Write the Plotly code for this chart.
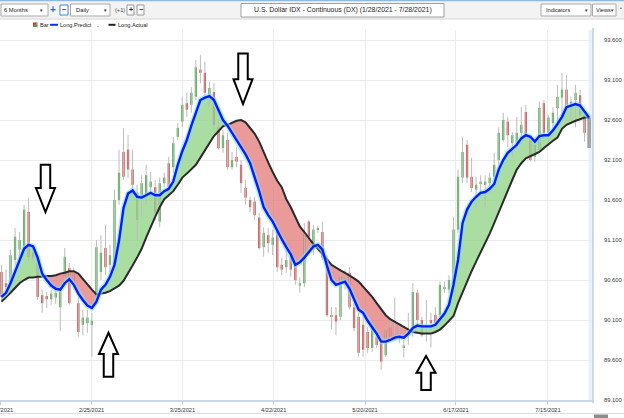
import plotly.graph_objects as go

FONT = "Liberation Sans"

# ---------------- data ----------------
tick_pos = [-0.2, 19.93, 40.04, 60.22, 80.42, 100.55, 120.9]
tick_labels = ["1/28/2021", "2/25/2021", "3/25/2021", "4/22/2021",
               "5/20/2021", "6/17/2021", "7/15/2021"]

opens = [90.70, 90.56, 90.56, 90.85, 90.98, 90.98, 91.45, 90.95, 90.85, 90.41,
         90.40, 90.36, 90.38, 90.26, 90.64, 90.75, 90.70, 90.31, 90.04, 90.06,
         90.04, 90.39, 90.70, 91.00, 90.79, 90.76, 91.60, 92.20, 92.23, 91.98,
         91.35, 91.64, 91.66, 91.76, 91.76, 91.33, 91.81, 92.06, 92.01, 92.39,
         92.58, 92.81, 92.79, 92.89, 93.23, 93.19, 92.91, 92.95, 92.51, 92.25,
         92.35, 92.01, 92.14, 92.04, 91.75, 91.60, 91.58, 91.38, 91.01, 91.16,
         91.04, 91.25, 90.79, 90.76, 90.88, 90.81, 90.53, 90.56, 91.33, 90.98,
         91.23, 91.20, 90.85, 90.16, 90.16, 90.14, 90.58, 90.69, 90.26, 90.14,
         90.04, 89.95, 89.75, 89.89, 89.81, 89.66, 90.01, 89.86, 89.91, 89.76,
         89.91, 89.94, 90.44, 90.10, 90.04, 90.10, 90.16, 90.16, 90.49, 90.48,
         90.50, 91.23, 91.88, 92.29, 91.89, 91.73, 91.80, 91.79, 91.81, 91.89,
         92.10, 92.35, 92.58, 92.31, 92.26, 92.44, 92.70, 92.38, 92.14, 92.23,
         92.81, 92.44, 92.56, 92.75, 92.88, 92.98, 92.76, 92.85, 92.91, 92.66,
         92.63]
highs = [90.79, 90.73, 90.98, 91.25, 91.20, 91.54, 91.63, 91.00, 90.90, 90.48,
         90.45, 90.48, 90.49, 90.56, 91.00, 90.81, 90.76, 90.39, 90.23, 90.23,
         90.19, 91.10, 91.16, 91.29, 91.04, 91.73, 92.23, 92.50, 92.41, 92.23,
         91.79, 91.91, 92.04, 91.95, 91.85, 91.88, 91.94, 92.14, 92.39, 92.56,
         92.89, 92.94, 93.01, 93.35, 93.41, 93.33, 93.08, 93.06, 92.60, 92.48,
         92.44, 92.20, 92.26, 92.10, 91.85, 91.64, 91.64, 91.44, 91.26, 91.25,
         91.23, 91.29, 90.88, 90.98, 90.95, 90.88, 90.63, 91.31, 91.35, 91.29,
         91.28, 91.33, 90.91, 90.26, 90.26, 90.70, 90.73, 90.76, 90.31, 90.19,
         90.14, 90.01, 90.06, 89.94, 89.85, 90.01, 90.10, 90.38, 90.04, 89.85,
         90.19, 90.56, 90.48, 90.14, 90.35, 90.19, 90.26, 90.58, 90.58, 90.66,
         91.39, 91.98, 92.39, 92.35, 92.13, 91.89, 91.91, 91.91, 91.94, 92.19,
         92.51, 92.69, 92.64, 92.45, 92.64, 92.76, 92.79, 92.41, 92.33, 92.83,
         92.85, 92.66, 92.76, 93.04, 93.19, 93.16, 92.89, 93.04, 92.98, 92.73,
         92.63]
lows = [90.35, 90.35, 90.48, 90.79, 90.83, 90.91, 90.83, 90.83, 90.35, 90.19,
        90.25, 90.29, 90.30, 89.96, 90.56, 90.29, 90.48, 89.89, 89.91, 89.94,
        89.64, 90.29, 90.60, 90.66, 90.70, 90.73, 91.54, 91.85, 91.88, 91.66,
        91.10, 91.41, 91.54, 91.64, 91.35, 91.26, 91.76, 91.64, 91.94, 92.35,
        92.51, 92.64, 92.69, 92.85, 93.06, 92.85, 92.76, 92.48, 92.23, 92.19,
        91.98, 91.98, 92.01, 91.69, 91.54, 91.45, 91.35, 90.98, 90.89, 90.94,
        90.91, 90.70, 90.66, 90.69, 90.64, 90.54, 90.44, 90.51, 91.10, 90.91,
        91.19, 90.85, 90.14, 89.98, 89.91, 90.10, 90.48, 90.23, 89.96, 89.64,
        89.64, 89.69, 89.70, 89.75, 89.48, 89.64, 89.85, 89.85, 89.81, 89.63,
        89.79, 89.89, 90.04, 89.89, 89.83, 89.76, 90.01, 90.14, 90.44, 90.44,
        90.44, 91.19, 91.81, 91.81, 91.70, 91.51, 91.69, 91.51, 91.69, 91.81,
        92.01, 92.33, 92.26, 92.14, 92.23, 92.35, 92.35, 92.08, 92.08, 92.19,
        92.39, 92.33, 92.48, 92.51, 92.63, 92.69, 92.60, 92.51, 92.64, 92.33,
        92.25]
closes = [90.39, 90.51, 90.91, 91.14, 91.10, 91.48, 90.89, 90.88, 90.39, 90.31,
          90.36, 90.43, 90.44, 90.50, 90.89, 90.31, 90.58, 89.95, 90.13, 90.13,
          90.09, 91.01, 90.94, 90.76, 90.91, 91.60, 91.94, 91.89, 91.98, 91.79,
          91.69, 91.81, 91.91, 91.83, 91.44, 91.81, 91.88, 91.76, 92.31, 92.50,
          92.79, 92.73, 92.94, 93.26, 93.19, 92.94, 93.00, 92.54, 92.25, 92.41,
          92.01, 92.10, 92.08, 91.81, 91.63, 91.51, 91.41, 91.00, 91.19, 91.06,
          91.13, 90.76, 90.73, 90.85, 90.73, 90.60, 90.56, 91.19, 91.14, 91.23,
          91.24, 90.88, 90.16, 90.14, 90.08, 90.64, 90.63, 90.26, 90.00, 89.69,
          89.73, 89.75, 90.00, 89.79, 89.58, 89.98, 89.89, 89.89, 89.89, 89.78,
          89.94, 90.45, 90.10, 89.91, 90.00, 90.06, 90.06, 90.54, 90.50, 90.60,
          91.23, 91.89, 92.20, 91.88, 91.75, 91.79, 91.83, 91.83, 91.88, 92.04,
          92.44, 92.60, 92.41, 92.41, 92.44, 92.54, 92.41, 92.10, 92.29, 92.75,
          92.44, 92.63, 92.69, 92.89, 92.98, 92.76, 92.83, 92.94, 92.66, 92.44,
          92.25]
long_predict = [90.39, 90.44, 90.56, 90.70, 90.84, 90.99, 91.04, 91.02, 90.88, 90.68,
                90.60, 90.53, 90.49, 90.48, 90.56, 90.61, 90.54, 90.43, 90.35, 90.28,
                90.25, 90.33, 90.48, 90.54, 90.64, 90.79, 91.09, 91.50, 91.68, 91.72,
                91.64, 91.63, 91.66, 91.69, 91.66, 91.66, 91.71, 91.74, 91.83, 92.04,
                92.21, 92.35, 92.53, 92.69, 92.85, 92.88, 92.90, 92.85, 92.72, 92.60,
                92.53, 92.44, 92.35, 92.26, 92.17, 92.06, 91.89, 91.71, 91.51, 91.41,
                91.33, 91.21, 91.11, 91.01, 90.92, 90.79, 90.82, 90.88, 90.95, 91.02,
                91.04, 90.98, 90.78, 90.60, 90.54, 90.56, 90.58, 90.49, 90.36, 90.23,
                90.19, 90.09, 90.01, 89.93, 89.83, 89.83, 89.85, 89.88, 89.89, 89.88,
                89.93, 90.00, 90.03, 90.02, 90.02, 90.02, 90.04, 90.11, 90.18, 90.29,
                90.54, 90.85, 91.31, 91.48, 91.58, 91.64, 91.69, 91.70, 91.74, 91.80,
                91.98, 92.10, 92.19, 92.24, 92.29, 92.37, 92.41, 92.39, 92.33, 92.40,
                92.41, 92.41, 92.47, 92.55, 92.64, 92.76, 92.78, 92.80, 92.78, 92.71,
                92.63]
long_actual = [90.33, 90.38, 90.44, 90.50, 90.56, 90.60, 90.63, 90.63, 90.64, 90.64,
               90.65, 90.65, 90.66, 90.68, 90.69, 90.71, 90.71, 90.68, 90.61, 90.55,
               90.48, 90.42, 90.43, 90.44, 90.46, 90.49, 90.53, 90.59, 90.68, 90.78,
               90.88, 90.99, 91.13, 91.27, 91.39, 91.51, 91.61, 91.66, 91.71, 91.79,
               91.88, 91.93, 91.98, 92.04, 92.13, 92.22, 92.31, 92.40, 92.46, 92.52,
               92.54, 92.57, 92.59, 92.60, 92.57, 92.50, 92.43, 92.33, 92.19, 92.07,
               91.95, 91.84, 91.76, 91.61, 91.51, 91.39, 91.27, 91.20, 91.12, 91.05,
               90.99, 90.93, 90.86, 90.79, 90.75, 90.72, 90.69, 90.66, 90.62, 90.58,
               90.52, 90.46, 90.39, 90.31, 90.23, 90.16, 90.11, 90.08, 90.04, 90.02,
               89.99, 89.95, 89.94, 89.93, 89.93, 89.93, 89.95, 89.98, 90.03, 90.09,
               90.15, 90.31, 90.45, 90.58, 90.71, 90.83, 90.94, 91.06, 91.18, 91.31,
               91.45, 91.58, 91.72, 91.85, 91.98, 92.06, 92.12, 92.15, 92.18, 92.20,
               92.25, 92.30, 92.34, 92.38, 92.49, 92.54, 92.57, 92.59, 92.61, 92.63,
               92.63]

# hollow arrows drawn on the chart: (bar index, tip value, head-base value, tail value)
arrow_marks = [(9.73, 91.45, 91.75, 92.04),
               (53.43, 92.80, 93.11, 93.43),
               (23.67, 89.94, 89.675, 89.39),
               (93.92, 89.65, 89.44, 89.225)]

N = len(closes)
xs = list(range(N))

# ---------------- geometry helpers ----------------
W, H = 624, 418
PL, PR, PT, PB = 0, 593, 30, 400


def pxx(x):
    return (x - PL) / (PR - PL)


def pyy(y):
    return (PB - y) / (PB - PT)


fig = go.Figure()

# ---- filled bands between predict and actual ----
GREEN_FILL = "rgba(140,210,130,0.75)"
RED_FILL = "rgba(228,120,120,0.75)"


def flush(rx, rp, ra, positive):
    if len(rx) < 2:
        return
    fig.add_trace(go.Scatter(
        x=rx + rx[::-1], y=rp + ra[::-1], mode="lines", fill="toself",
        fillcolor=GREEN_FILL if positive else RED_FILL,
        line=dict(width=0), hoverinfo="skip", showlegend=False))


rx, rp, ra = [xs[0]], [long_predict[0]], [long_actual[0]]
pos = long_predict[0] >= long_actual[0]
for i in range(N - 1):
    d0 = long_predict[i] - long_actual[i]
    d1 = long_predict[i + 1] - long_actual[i + 1]
    if (d1 >= 0) != pos and d0 != d1:
        t = d0 / (d0 - d1)
        xc = i + t
        yc = long_predict[i] + t * (long_predict[i + 1] - long_predict[i])
        rx.append(xc); rp.append(yc); ra.append(yc)
        flush(rx, rp, ra, pos)
        rx, rp, ra = [xc], [yc], [yc]
        pos = d1 >= 0
    rx.append(xs[i + 1]); rp.append(long_predict[i + 1]); ra.append(long_actual[i + 1])
flush(rx, rp, ra, pos)

# ---- candle wicks ----
wx, wy = [], []
for i in range(N):
    wx += [xs[i], xs[i], None]
    wy += [lows[i], highs[i], None]
fig.add_trace(go.Scatter(x=wx, y=wy, mode="lines",
                         line=dict(color="#bcbcbc", width=1),
                         hoverinfo="skip", showlegend=False))

# ---- candle bodies ----
body_base, body_h, body_col, body_w = [], [], [], []
for i in range(N):
    lo, hi = min(opens[i], closes[i]), max(opens[i], closes[i])
    body_base.append(lo)
    body_h.append(max(hi - lo, 0.014))
    if i == N - 1:
        body_col.append("#8f8f8f"); body_w.append(0.75)
    else:
        body_col.append("#45a845" if closes[i] >= opens[i] else "#d23c3c")
        body_w.append(0.5)
fig.add_trace(go.Bar(x=xs, y=body_h, base=body_base, width=body_w,
                     marker=dict(color=body_col, line=dict(width=0)),
                     hoverinfo="skip", showlegend=False))

# ---- lines ----
fig.add_trace(go.Scatter(x=xs, y=long_actual, mode="lines", name="Long.Actual",
                         line=dict(color="#2a2a2a", width=2), showlegend=False))
fig.add_trace(go.Scatter(x=xs, y=long_predict, mode="lines", hoverinfo="skip",
                         line=dict(color="rgba(130,225,255,0.6)", width=5.5),
                         showlegend=False))
fig.add_trace(go.Scatter(x=xs, y=long_predict, mode="lines", name="Long.Predict",
                         line=dict(color="#0c1cf5", width=2.4), showlegend=False))

shapes = []
annotations = []

# ---- arrows (data coords) ----
SW, HW = 1.05, 2.1
for cx, tip, hb, tail in arrow_marks:
    pts = [(cx - SW, tail), (cx + SW, tail), (cx + SW, hb), (cx + HW, hb),
           (cx, tip), (cx - HW, hb), (cx - SW, hb)]
    path = "M " + " L ".join(f"{x:.3f},{y:.4f}" for x, y in pts) + " Z"
    shapes.append(dict(type="path", xref="x", yref="y", path=path,
                       fillcolor="white", line=dict(color="black", width=2)))


def rect(x0, y0, x1, y1, fill, line=None, lw=1, layer="above"):
    shapes.append(dict(type="rect", xref="paper", yref="paper",
                       x0=pxx(x0), x1=pxx(x1), y0=pyy(y1), y1=pyy(y0),
                       fillcolor=fill, layer=layer,
                       line=dict(color=line or fill, width=lw if line else 0)))


def hline(x0, x1, y, color, lw=1):
    shapes.append(dict(type="line", xref="paper", yref="paper",
                       x0=pxx(x0), x1=pxx(x1), y0=pyy(y), y1=pyy(y),
                       line=dict(color=color, width=lw)))


def txt(x, y, s, size=5.8, color="#222222", xanchor="left"):
    annotations.append(dict(x=pxx(x), y=pyy(y), xref="paper", yref="paper",
                            text=s, showarrow=False, xanchor=xanchor,
                            yanchor="middle", borderpad=0,
                            font=dict(size=size, color=color, family=FONT)))


# right border band of the plot
rect(588.5, PT, 593, PB, "rgba(215,228,242,0.55)", layer="below")
shapes.append(dict(type="line", xref="paper", yref="paper",
                   x0=pxx(593), x1=pxx(593), y0=pyy(PB + 3), y1=pyy(PT - 2),
                   line=dict(color="#bcd2ea", width=1.5)))

# toolbar
rect(0, 0, 624, 19, "#f3f3f3")
hline(0, 624, 0.6, "#8fbbe3", 1.2)
hline(0, 624, 19, "#d6d6d6", 1)

# dropdown: 6 Months
rect(1, 4, 48, 16, "white", "#aaaaaa")
txt(3, 10, "6 Months", 5.8)
txt(41, 10, "▼", 4.5, "#333", "center")
# + / - zoom buttons
txt(53, 9.6, "<b>+</b>", 10, "#1f6fd6", "center")
rect(60, 5, 68, 15, "white", "#4b86d0")
txt(64, 9.6, "<b>−</b>", 8, "#1f6fd6", "center")
# Daily
rect(70.5, 4, 110, 16, "white", "#aaaaaa")
txt(75, 10, "Daily", 5.8)
txt(105.5, 10, "▼", 4.5, "#333", "center")
txt(113.5, 10, "(+1)", 5.6, "#444")
rect(127, 5, 134, 15, "#fafafa", "#9a9a9a")
txt(130.5, 9.8, "<b>+</b>", 7, "#222", "center")
rect(137, 5, 144, 15, "#fafafa", "#9a9a9a")
txt(140.5, 9.8, "<b>−</b>", 7, "#222", "center")
# title box
rect(241, 3.5, 444, 17, "white", "#9e9e9e")
txt(342.5, 10.4, "U.S. Dollar IDX - Continuous (DX) (1/28/2021 - 7/28/2021)", 6.9,
    "#222", "center")
# Indicators / Views
rect(541, 4, 591, 16, "white", "#aaaaaa")
txt(545, 10, "Indicators", 5.6)
txt(585.5, 10, "▼", 4.5, "#333", "center")
rect(592.5, 4, 616, 16, "white", "#aaaaaa")
txt(594.5, 10, "Views", 5.6)
txt(611.5, 10, "▼", 4.5, "#333", "center")
txt(620.5, 8, "•", 5, "#555", "center")

# legend row
shapes.append(dict(type="path", xref="paper", yref="paper",
                   path=f"M {pxx(33)},{pyy(27)} L {pxx(37.5)},{pyy(27)} L {pxx(37.5)},{pyy(22.5)} Z",
                   fillcolor="#3fa53f", line=dict(width=0)))
shapes.append(dict(type="path", xref="paper", yref="paper",
                   path=f"M {pxx(33)},{pyy(27)} L {pxx(33)},{pyy(22.5)} L {pxx(37.5)},{pyy(22.5)} Z",
                   fillcolor="#cf3434", line=dict(width=0)))
txt(39, 24.8, "Bar", 5.6)
hline(50, 58, 24.8, "#1030f0", 2)
txt(59, 24.8, "Long.Predict", 5.6)
txt(98, 26, "•", 4, "#2a8fd0", "center")
hline(108.5, 115.5, 24.8, "#222", 2)
txt(117, 24.8, "Long.Actual", 5.6)

# bottom scroll strip
hline(0, 624, 413.5, "#dcdcdc", 1)
rect(594, 414.5, 608, 418, "#8c8c8c")

fig.update_layout(
    width=W, height=H,
    margin=dict(l=PL, r=W - PR, t=PT, b=H - PB, pad=0, autoexpand=False),
    paper_bgcolor="white", plot_bgcolor="white",
    barmode="overlay", showlegend=False,
    shapes=shapes, annotations=annotations,
    font=dict(family=FONT),
    xaxis=dict(range=[-0.33, 130.86], tickmode="array", tickvals=tick_pos,
               ticktext=tick_labels, showgrid=True, gridcolor="#ebebeb",
               gridwidth=1, zeroline=False, ticks="outside", ticklen=3,
               tickcolor="#cccccc", tickfont=dict(size=5.7, color="#333333"),
               ticklabeloverflow="allow", showline=True, linecolor="#cad8e6",
               linewidth=1.5, fixedrange=True, automargin=False),
    yaxis=dict(range=[89.1, 89.1 + (PB - PT) / 80.0], side="right",
               tick0=89.1, dtick=0.5, tickformat=".3f", showgrid=True,
               gridcolor="#ebebeb", zeroline=False, ticks="",
               ticklabelstandoff=10, tickfont=dict(size=5.8, color="#333333"),
               showline=False, fixedrange=True, automargin=False),
)

fig.write_html("out.html", config={"displayModeBar": False},
               post_script="document.body.style.margin='0px';")
